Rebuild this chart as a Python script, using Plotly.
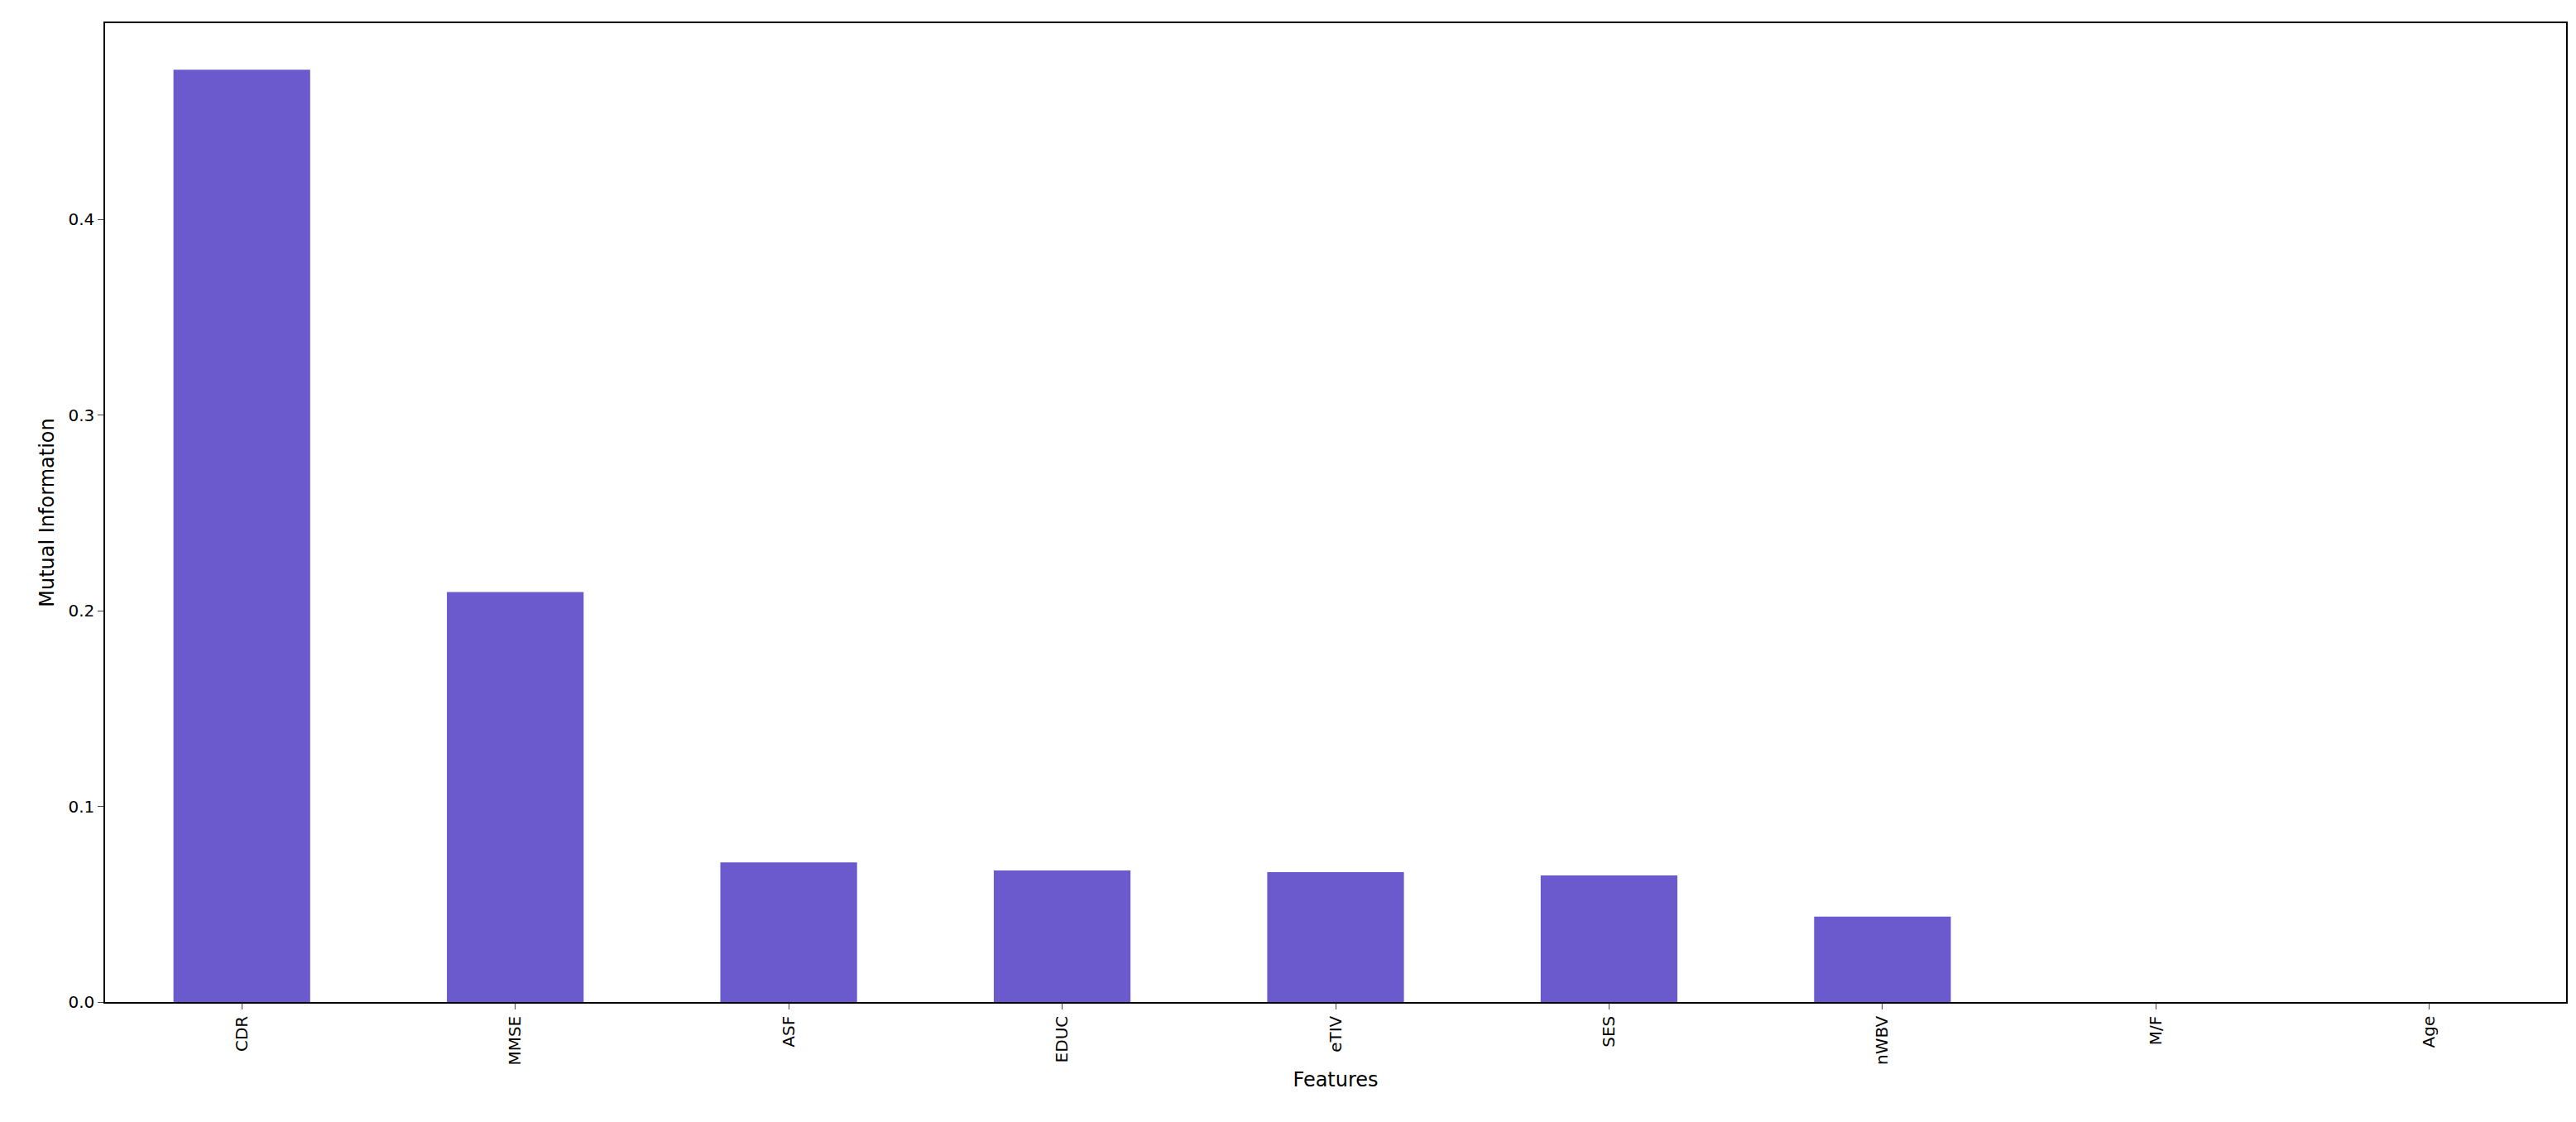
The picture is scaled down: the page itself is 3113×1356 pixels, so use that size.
import plotly.graph_objects as go

features = ["CDR", "MMSE", "ASF", "EDUC", "eTIV", "SES", "nWBV", "M/F", "Age"]
mi_values = [0.4765, 0.2095, 0.0714, 0.0672, 0.0664, 0.0647, 0.0437, 0.0, 0.0]
y_ticks = [0.0, 0.1, 0.2, 0.3, 0.4]

fig = go.Figure(go.Bar(x=list(range(len(features))), y=mi_values, width=0.5,
                       marker=dict(color="#6A5ACD", line=dict(width=0))))
fig.update_layout(
    width=3113, height=1356, plot_bgcolor="white", paper_bgcolor="white",
    margin=dict(l=119, r=20, t=20, b=153),
    font=dict(family="DejaVu Sans", size=20, color="black"),
    showlegend=False,
)
fig.update_xaxes(range=[-0.5, 8.5], tickvals=list(range(len(features))), ticktext=features,
                 tickangle=-90, ticks="outside", ticklen=7, showgrid=False,
                 showline=True, linecolor="black", mirror=True, linewidth=1.5,
                 title=dict(text="Features", standoff=10), zeroline=False)
fig.update_yaxes(range=[0, 0.5003], tickvals=y_ticks, ticktext=[f"{v:.1f}" for v in y_ticks],
                 ticks="outside", ticklen=7, showgrid=False,
                 showline=True, linecolor="black", mirror=True, linewidth=1.5,
                 title=dict(text="Mutual Information", standoff=10), zeroline=False)
fig.write_html("out.html")
